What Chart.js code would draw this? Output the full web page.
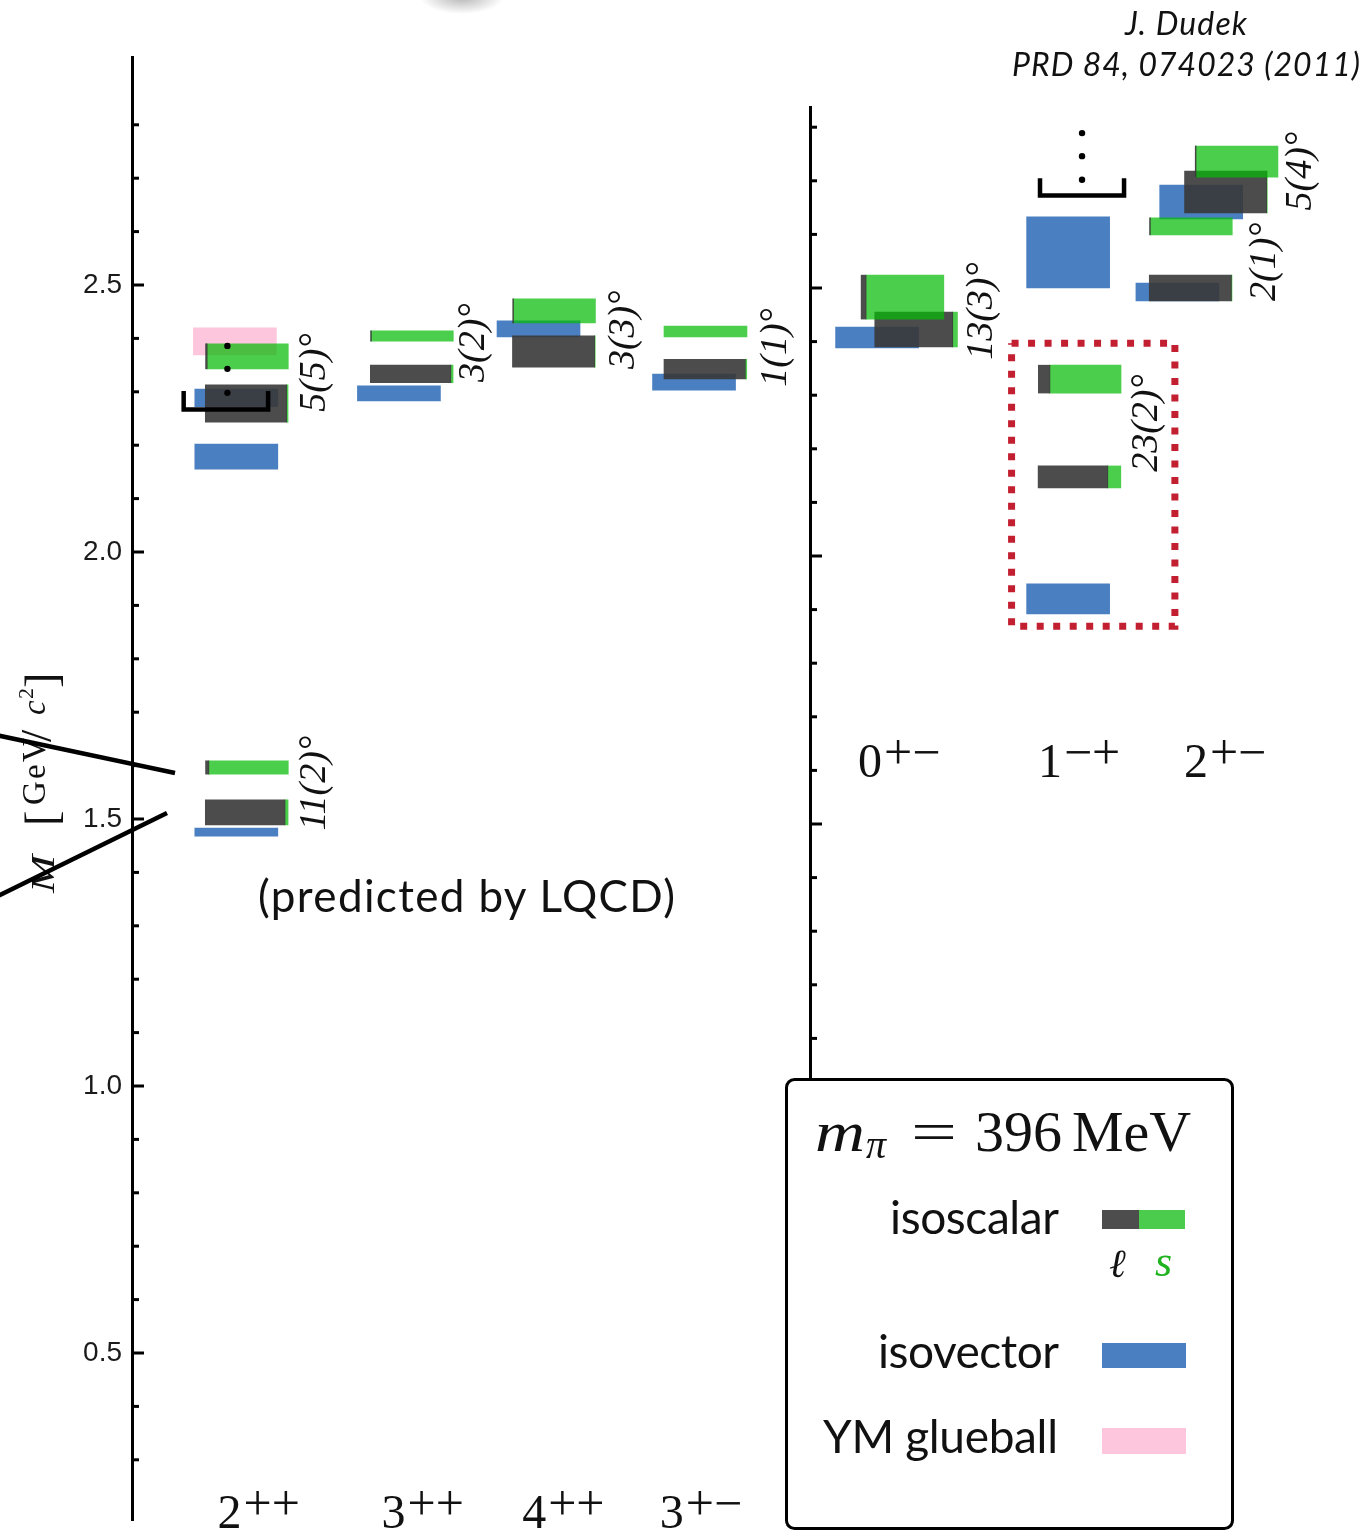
<!DOCTYPE html>
<html>
<head>
<meta charset="utf-8">
<title>Isoscalar / isovector meson spectrum (LQCD)</title>
<script src="https://cdn.jsdelivr.net/npm/chart.js@4.4.1/dist/chart.umd.min.js"></script>
<style>
  html, body { margin: 0; padding: 0; background: #fff; }
  body { width: 1372px; height: 1533px; position: relative; overflow: hidden; }
  #cL { position: absolute; left: 0; top: 0; }
  #cR { position: absolute; left: 800px; top: 0; }
  #overlay { position: absolute; left: 0; top: 0; pointer-events: none; }
</style>
</head>
<body>
<canvas id="cL" width="800" height="1533"></canvas>
<canvas id="cR" width="572" height="1533"></canvas>
<svg id="overlay" width="1372" height="1533" xmlns="http://www.w3.org/2000/svg">
  <defs>
    <radialGradient id="blob" cx="50%" cy="50%" r="50%">
      <stop offset="0" stop-color="#9a9a9a" stop-opacity="0.75"/>
      <stop offset="1" stop-color="#9a9a9a" stop-opacity="0"/>
    </radialGradient>
  </defs>
  <ellipse cx="462" cy="-3" rx="42" ry="17" fill="url(#blob)"/>

  <!-- citation -->
  <text x="1125" y="35" font-family="Lato, sans-serif" font-style="italic" font-size="32" fill="#111" textLength="122" lengthAdjust="spacing">J. Dudek</text>
  <text x="1012" y="76" font-family="Lato, sans-serif" font-style="italic" font-size="32" fill="#111" textLength="348" lengthAdjust="spacing">PRD 84, 074023 (2011)</text>

  <!-- y axis title M [GeV/c^2] -->
  <g transform="translate(45,0) rotate(-90)" font-family="'Liberation Serif', serif" fill="#111">
    <text x="-893" y="9" font-size="34" font-style="italic" textLength="38" lengthAdjust="spacingAndGlyphs">M</text>
    <text x="-826" y="12" font-size="46">[</text>
    <text y="0" font-size="33"><tspan x="-805">G</tspan><tspan x="-779">e</tspan><tspan x="-762">V</tspan></text>
    <text x="-742" y="6" font-size="44">/</text>
    <text x="-715" y="0" font-size="33" font-style="italic">c</text>
    <text x="-699" y="-12" font-size="22">2</text>
    <text x="-688" y="12" font-size="46">]</text>
  </g>
  <line x1="-4" y1="735" x2="175" y2="773" stroke="#000" stroke-width="4.5"/>
  <line x1="-4" y1="897" x2="167" y2="813" stroke="#000" stroke-width="4.5"/>

  <text x="258" y="912" font-family="Lato, sans-serif" font-size="44" fill="#111" textLength="417" lengthAdjust="spacing">(predicted by LQCD)</text>

  <!-- legend -->
  <rect x="786.5" y="1079.5" width="446" height="449" rx="8" ry="8" fill="#fff" stroke="#000" stroke-width="3"/>
  <g font-family="'Liberation Serif', serif" fill="#111">
    <text x="815" y="1151" font-size="58" font-style="italic" textLength="50" lengthAdjust="spacingAndGlyphs">m</text>
    <text x="866" y="1158" font-size="40" font-style="italic">π</text>
    <text x="911" y="1151" font-size="58" textLength="46" lengthAdjust="spacingAndGlyphs">=</text>
    <text x="975" y="1151" font-size="58">396</text>
    <text x="1072" y="1151" font-size="58">MeV</text>
  </g>
  <g font-family="Lato, sans-serif" font-size="46" fill="#111">
    <text x="890" y="1234" textLength="169" lengthAdjust="spacing">isoscalar</text>
    <text x="878" y="1368" textLength="181" lengthAdjust="spacing">isovector</text>
    <text x="823" y="1453" textLength="235" lengthAdjust="spacing">YM glueball</text>
  </g>
  <rect x="1102" y="1210" width="37" height="19" fill="#4d4d4d"/>
  <rect x="1139" y="1210" width="46" height="19" fill="#4ccc4c"/>
  <text x="1109" y="1277" font-family="'Liberation Serif','DejaVu Serif', serif" font-style="italic" font-size="40" fill="#111">ℓ</text>
  <text x="1155" y="1276" font-family="'Liberation Serif', serif" font-style="italic" font-size="44" fill="#1fb31f">s</text>
  <rect x="1102" y="1343" width="84" height="25" fill="#4a7fc1"/>
  <rect x="1102" y="1428" width="84" height="26" fill="#fdc6dd"/>
</svg>

<script>
// ======================= DATA (masses in GeV/c^2) =======================
// ---- left panel: non-exotic J^PC ----
const leftCategories      = ['2', '3', '4', '3'];
const leftCategorySups    = ['++', '++', '++', '+\u2212'];
// isoscalar states: category, mass band, light-quark (ℓ) fraction (rest is s)
const leftIsoscalarCat    = [0, 0, 0, 0, 1, 1, 2, 2, 3, 3];
const leftIsoscalarLow    = [2.343, 2.243, 1.584, 1.489, 2.395, 2.317, 2.429, 2.346, 2.403, 2.324];
const leftIsoscalarHigh   = [2.390, 2.313, 1.609, 1.536, 2.414, 2.350, 2.474, 2.405, 2.423, 2.361];
const leftIsoscalarLight  = [0.02, 0.98, 0.04, 0.96, 0.01, 0.97, 0.01, 0.99, 0.00, 0.98];
// isovector states
const leftIsovectorCat    = [0, 0, 0, 1, 2, 3];
const leftIsovectorLow    = [2.272, 2.155, 1.468, 2.283, 2.403, 2.303];
const leftIsovectorHigh   = [2.305, 2.202, 1.483, 2.311, 2.433, 2.333];
// Yang-Mills glueball
const leftGlueballCat     = [0];
const leftGlueballLow     = [2.369];
const leftGlueballHigh    = [2.420];
// mixing-angle labels
const leftMixing          = ['5(5)°', '11(2)°', '3(2)°', '3(3)°', '1(1)°'];
const leftMixingCat       = [0, 0, 1, 2, 3];
const leftMixingMass      = [2.336, 1.567, 2.392, 2.416, 2.383];
// "more states above" marker
const leftMoreCat         = 0;
const leftMoreDots        = [2.386, 2.343, 2.298];

// ---- right panel: exotic J^PC ----
const rightCategories     = ['0', '1', '2'];
const rightCategorySups   = ['+\u2212', '\u2212+', '+\u2212'];
const rightIsoscalarCat   = [0, 0, 1, 1, 2, 2, 2, 2];
const rightIsoscalarLow   = [2.442, 2.390, 2.304, 2.127, 2.707, 2.640, 2.599, 2.476];
const rightIsoscalarHigh  = [2.524, 2.455, 2.356, 2.168, 2.765, 2.718, 2.631, 2.524];
const rightIsoscalarLight = [0.06, 0.94, 0.14, 0.84, 0.01, 0.99, 0.01, 0.99];
const rightIsovectorCat   = [0, 1, 1, 2, 2];
const rightIsovectorLow   = [2.388, 2.500, 1.892, 2.629, 2.476];
const rightIsovectorHigh  = [2.427, 2.633, 1.948, 2.692, 2.509];
const rightMixing         = ['13(3)°', '23(2)°', '5(4)°', '2(1)°'];
const rightMixingCat      = [0, 1, 2, 2];
const rightMixingMass     = [2.457, 2.248, 2.718, 2.549];
const rightMoreCat        = 1;
const rightMoreDots       = [2.789, 2.746, 2.702];
const rightHighlightCat   = 1;
const rightHighlightMass  = [1.869, 2.397];

// axis ticks (GeV)
const leftTicks  = [0.3,0.4,0.5,0.6,0.7,0.8,0.9,1.0,1.1,1.2,1.3,1.4,1.5,1.6,1.7,1.8,1.9,2.0,2.1,2.2,2.3,2.4,2.5,2.6,2.7,2.8];
const rightTicks = [1.1,1.2,1.3,1.4,1.5,1.6,1.7,1.8,1.9,2.0,2.1,2.2,2.3,2.4,2.5,2.6,2.7,2.8];

// ======================= LAYOUT / STYLE =======================
const PX_PER_UNIT = 160;               // x-scale pixels per unit
const BOX_W = 83 / PX_PER_UNIT;        // box width in x units
const COLOR_LIGHT   = 'rgba(56,56,56,0.9)';
const COLOR_STRANGE = 'rgba(5,187,5,0.72)';
const COLOR_VEC     = 'rgb(74,127,193)';
const COLOR_GLUE    = 'rgb(253,198,221)';

const leftLayout = {
  catX: [0, 1.0375, 1.93125, 2.884],
  isoDx: [0, 0, 0, 0, 0, 0, 0, 0, 0, 0],
  vecDx: [-0.066, -0.066, -0.066, -0.081, -0.097, -0.072],
  glueDx: [-0.075],
  mixDx: [0.428, 0.428, 0.39, 0.4375, 0.444],
  labelDx: [0.075, 0.069, 0.059, -0.028],
  labelMass: 0.1723,
  moreDx: -0.122,
  bracket: { dx: [-0.397, 0.134], top: 2.3015, bottom: 2.267 },
  xMin: -0.721875, xMax: 3.453125, yMin: 0.18727, yMax: 2.92697,
  padding: { left: 0, right: 0, top: 57, bottom: 13 }, axisWidth: 132,
  showLabels: true
};
const rightLayout = {
  catX: [0, 1.115625, 1.815625],
  isoDx: [0, 0.0875, 0, 0, 0.2875, 0.222, 0, 0],
  vecDx: [-0.159, -0.072, -0.072, 0.0656, -0.084],
  mixDx: [0.5, 0.422, 0.697, 0.4656],
  labelDx: [-0.019, -0.003, 0.216],
  labelMass: 1.5877,
  moreDx: 0.0156,
  bracket: { dx: [-0.249, 0.28], top: 2.7047, bottom: 2.6726 },
  highlightDx: [-0.428, 0.6],
  xMin: -0.58125, xMax: 2.93125, yMin: 1.02239, yMax: 2.83769,
  padding: { left: 0, right: 0, top: 107, bottom: 453 }, axisWidth: 10,
  showLabels: false
};

// ======================= BUILD =======================
const isMajor = v => Math.abs(v * 2 - Math.round(v * 2)) < 1e-6;

function barSet(x, lo, hi, w, color, order) {
  return { type: 'bar', data: [{ x: x, y: [lo, hi] }], backgroundColor: color, borderWidth: 0,
           grouped: false, barThickness: w * PX_PER_UNIT, order: order };
}

function buildDatasets(p, L) {
  const ds = [];
  (p.glueCat || []).forEach((c, i) =>
    ds.push(barSet(L.catX[c] + L.glueDx[i], p.glueLow[i], p.glueHigh[i], BOX_W, COLOR_GLUE, 3)));
  p.vecCat.forEach((c, i) =>
    ds.push(barSet(L.catX[c] + L.vecDx[i], p.vecLow[i], p.vecHigh[i], BOX_W, COLOR_VEC, 2)));
  p.isoCat.forEach((c, i) => {
    const left = L.catX[c] + L.isoDx[i] - BOX_W / 2;
    const wl = BOX_W * p.isoLight[i], ws = BOX_W - wl;
    if (wl > 1e-6) ds.push(barSet(left + wl / 2, p.isoLow[i], p.isoHigh[i], wl, COLOR_LIGHT, 1));
    if (ws > 1e-6) ds.push(barSet(left + wl + ws / 2, p.isoLow[i], p.isoHigh[i], ws, COLOR_STRANGE, 1));
  });
  const bx = L.catX[p.moreCat];
  const b = L.bracket;
  ds.push({ type: 'line', order: 0,
    data: [{ x: bx + b.dx[0], y: b.top }, { x: bx + b.dx[0], y: b.bottom },
           { x: bx + b.dx[1], y: b.bottom }, { x: bx + b.dx[1], y: b.top }],
    borderColor: '#000', borderWidth: 4.5, pointRadius: 0, fill: false, tension: 0,
    borderCapStyle: 'butt', borderJoinStyle: 'miter' });
  ds.push({ type: 'scatter', order: 0,
    data: p.moreDots.map(m => ({ x: bx + L.moreDx, y: m })),
    pointRadius: 3.2, pointBackgroundColor: '#000', pointBorderWidth: 0 });
  if (p.highlightMass) {
    const hx = L.catX[p.highlightCat];
    const [x0, x1] = [hx + L.highlightDx[0], hx + L.highlightDx[1]];
    const [y0, y1] = p.highlightMass;
    ds.push({ type: 'line', order: 0,
      data: [{ x: x0, y: y1 }, { x: x1, y: y1 }, { x: x1, y: y0 }, { x: x0, y: y0 }, { x: x0, y: y1 }],
      borderColor: '#c21f30', borderWidth: 7, borderDash: [7, 9.5], pointRadius: 0, fill: false,
      tension: 0, borderCapStyle: 'butt', borderJoinStyle: 'miter' });
  }
  return ds;
}

const decorPlugin = {
  id: 'decor',
  afterDraw(chart, args, o) {
    const { ctx, chartArea } = chart;
    const xs = chart.scales.x, ys = chart.scales.y;
    ctx.save();
    // inward tick marks
    ctx.strokeStyle = '#000';
    ctx.lineWidth = 3;
    o.tickValues.forEach(v => {
      const py = ys.getPixelForValue(v);
      const len = isMajor(v) ? 12 : 7;
      ctx.beginPath();
      ctx.moveTo(chartArea.left, py);
      ctx.lineTo(chartArea.left + len, py);
      ctx.stroke();
    });
    // mixing-angle labels (rotated)
    ctx.fillStyle = '#111';
    ctx.font = 'italic 38px "Liberation Serif", serif';
    ctx.textAlign = 'center';
    ctx.textBaseline = 'middle';
    o.mixText.forEach((txt, i) => {
      const px = xs.getPixelForValue(o.catX[o.mixCat[i]] + o.mixDx[i]);
      const py = ys.getPixelForValue(o.mixMass[i]);
      ctx.save();
      ctx.translate(px, py);
      ctx.rotate(-Math.PI / 2);
      ctx.fillText(txt, 0, 0);
      ctx.restore();
    });
    // J^PC category labels
    ctx.textAlign = 'left';
    ctx.textBaseline = 'alphabetic';
    const baseY = ys.getPixelForValue(o.labelMass);
    o.catBase.forEach((base, i) => {
      ctx.font = '48px "Liberation Serif", serif';
      const wb = ctx.measureText(base).width;
      ctx.font = '50px "Liberation Serif", serif';
      const wsup = ctx.measureText(o.catSup[i]).width;
      const gap = 2;
      const cx = xs.getPixelForValue(o.catX[i] + o.labelDx[i]);
      const x0 = cx - (wb + gap + wsup) / 2;
      ctx.font = '48px "Liberation Serif", serif';
      ctx.fillText(base, x0, baseY);
      ctx.font = '50px "Liberation Serif", serif';
      ctx.fillText(o.catSup[i], x0 + wb + gap, baseY - 8);
    });
    ctx.restore();
  }
};

function makeChart(canvasId, p, L, ticks) {
  return new Chart(document.getElementById(canvasId), {
    type: 'bar',
    data: { datasets: buildDatasets(p, L) },
    options: {
      responsive: false,
      animation: false,
      events: [],
      layout: { padding: L.padding },
      plugins: {
        legend: { display: false },
        tooltip: { enabled: false },
        decor: {
          catX: L.catX, catBase: p.categories, catSup: p.sups, labelDx: L.labelDx, labelMass: L.labelMass,
          mixText: p.mixText, mixCat: p.mixCat, mixMass: p.mixMass, mixDx: L.mixDx, tickValues: ticks
        }
      },
      scales: {
        x: { type: 'linear', min: L.xMin, max: L.xMax, offset: false, display: false },
        y: {
          type: 'linear', min: L.yMin, max: L.yMax, stacked: false, beginAtZero: false,
          grid: { display: false, drawTicks: false },
          border: { display: true, width: 3, color: '#000' },
          afterBuildTicks: s => { s.ticks = ticks.map(v => ({ value: v })); },
          afterFit: s => { s.width = L.axisWidth; s.paddingTop = 0; s.paddingBottom = 0; },
          ticks: {
            display: L.showLabels, autoSkip: false, padding: 10, color: '#1a1a1a',
            font: { family: '"Liberation Sans", Arial, sans-serif', size: 28 },
            callback: v => (isMajor(v) ? v.toFixed(1) : '')
          }
        }
      }
    },
    plugins: [decorPlugin]
  });
}

makeChart('cL', {
  categories: leftCategories, sups: leftCategorySups,
  isoCat: leftIsoscalarCat, isoLow: leftIsoscalarLow, isoHigh: leftIsoscalarHigh, isoLight: leftIsoscalarLight,
  vecCat: leftIsovectorCat, vecLow: leftIsovectorLow, vecHigh: leftIsovectorHigh,
  glueCat: leftGlueballCat, glueLow: leftGlueballLow, glueHigh: leftGlueballHigh,
  mixText: leftMixing, mixCat: leftMixingCat, mixMass: leftMixingMass,
  moreCat: leftMoreCat, moreDots: leftMoreDots
}, leftLayout, leftTicks);

makeChart('cR', {
  categories: rightCategories, sups: rightCategorySups,
  isoCat: rightIsoscalarCat, isoLow: rightIsoscalarLow, isoHigh: rightIsoscalarHigh, isoLight: rightIsoscalarLight,
  vecCat: rightIsovectorCat, vecLow: rightIsovectorLow, vecHigh: rightIsovectorHigh,
  mixText: rightMixing, mixCat: rightMixingCat, mixMass: rightMixingMass,
  moreCat: rightMoreCat, moreDots: rightMoreDots,
  highlightCat: rightHighlightCat, highlightMass: rightHighlightMass
}, rightLayout, rightTicks);
</script>
</body>
</html>
